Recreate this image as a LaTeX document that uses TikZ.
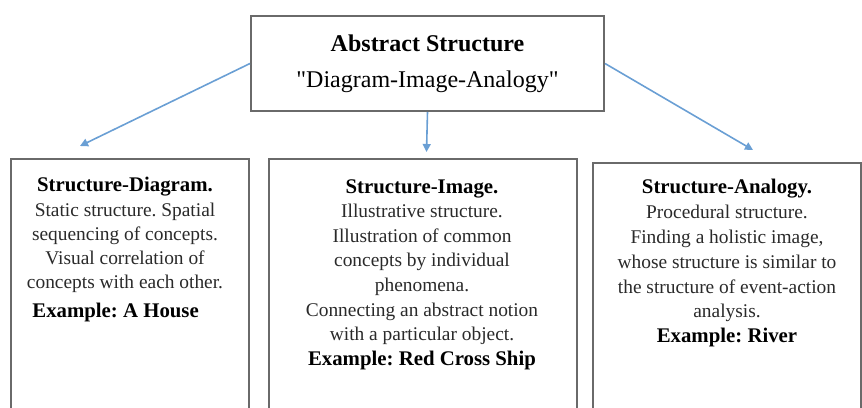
\documentclass[tikz,border=0pt]{standalone}
\usepackage{fontspec}
\setmainfont{Liberation Serif}[Ligatures=TeXOff]
\usetikzlibrary{arrows.meta}
\definecolor{boxgray}{HTML}{6A6A6A}
\definecolor{arrowblue}{HTML}{6A9FD4}
\definecolor{bodytext}{HTML}{2A2A2A}
\newcommand{\ttlfont}{\fontsize{10.4}{12.3}\selectfont\bfseries\color{black}}
\frenchspacing
\begin{document}
\begin{tikzpicture}[x=0.5pt,y=-0.5pt,
  box/.style={draw=boxgray,line width=1pt,inner sep=0pt,fill=white},
  conn/.style={draw=arrowblue,line width=0.8pt,-{Triangle[length=4pt,width=4pt]}},
  blk/.style={align=center,inner sep=0pt,anchor=north,text=bodytext,
              font=\fontsize{9.7}{12.3}\selectfont},
  ex/.style={inner sep=0pt,font=\fontsize{10.4}{12.3}\selectfont\bfseries,text=black}]
\useasboundingbox (0,0) rectangle (862,407);
\clip (0,0) rectangle (862,407);
% top box
\node[box,anchor=north west,minimum width=176.5pt,minimum height=47.5pt,
      align=center,font=\fontsize{12}{18}\selectfont] (top) at (250,15)
  {\textbf{Abstract Structure}\\"Diagram-Image-Analogy"};
% lower boxes
\node[box,anchor=north west,minimum width=119pt,minimum height=131pt] (L) at (10,158) {};
\node[box,anchor=north west,minimum width=154pt,minimum height=131pt] (M) at (268,158) {};
\node[box,anchor=north west,minimum width=134pt,minimum height=129pt] (R) at (592,162) {};
% texts
\node[blk,font=\fontsize{9.7}{12.1}\selectfont] (Lt) at (125,177)
  {{\ttlfont Structure-Diagram.}\\
   Static structure. Spatial\\
   sequencing of concepts.\\
   Visual correlation of\\
   concepts with each other.};
\node[ex,anchor=base west] (Le) at (32,317) {Example: A House};
\node[blk] (Mt) at (422,179)
  {{\ttlfont Structure-Image.}\\
   Illustrative structure.\\
   Illustration of common\\
   concepts by individual\\
   phenomena.\\
   Connecting an abstract notion\\
   with a particular object.\\
   {\ttlfont Example: Red Cross Ship}};
\node[blk,font=\fontsize{9.7}{12.4}\selectfont] (Rt) at (727,179)
  {{\ttlfont Structure-Analogy.}\\
   Procedural structure.\\
   Finding a holistic image,\\
   whose structure is similar to\\
   the structure of event-action\\
   analysis.\\
   {\ttlfont Example: River}};
% connectors
\coordinate (la) at (80,146);
\coordinate (ma) at (426.5,152);
\coordinate (ra) at (753,150);
\draw[conn] (top.west) -- (la);
\draw[conn] (top.south) -- (ma);
\draw[conn] (top.east) -- (ra);
\end{tikzpicture}
\end{document}
